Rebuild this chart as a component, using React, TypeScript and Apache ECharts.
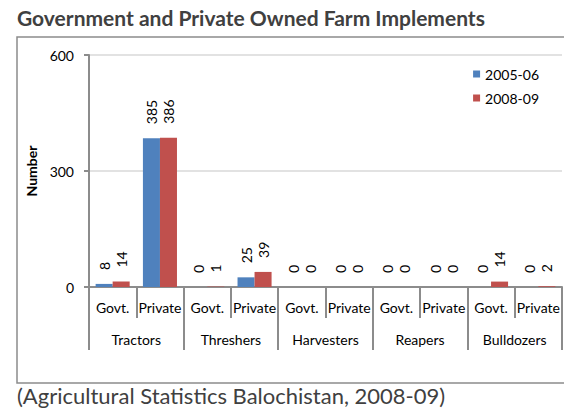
import React, { useEffect, useRef } from "react";
import * as echarts from "echarts";

const subCategories = ["Govt.", "Private", "Govt.", "Private", "Govt.", "Private", "Govt.", "Private", "Govt.", "Private"];
const groups = ["Tractors", "Threshers", "Harvesters", "Reapers", "Bulldozers"];
const series2005 = [8, 385, 0, 25, 0, 0, 0, 0, 0, 0];
const series2008 = [14, 386, 1, 39, 0, 0, 0, 0, 14, 2];
const yTicks = { min: 0, max: 600, interval: 300 };

const FONT = "Lato, 'Open Sans', sans-serif";

export default function App() {
  const ref = useRef<HTMLDivElement>(null);
  useEffect(() => {
    const chart = echarts.init(ref.current!, null, { renderer: "svg" });
    const label = {
      show: true,
      position: "top" as const,
      rotate: 90,
      align: "left" as const,
      verticalAlign: "middle" as const,
      distance: 14,
      fontSize: 14,
      color: "#000",
      fontFamily: FONT,
    };
    chart.setOption({
      animation: false,
      textStyle: { fontFamily: FONT },
      graphic: [
        { type: "rect", shape: { x: 17, y: 37, width: 580, height: 346 }, style: { fill: "none", stroke: "#8c8c8c", lineWidth: 1.5 } },
        { type: "text", x: 17, y: 7, style: { text: "Government and Private Owned Farm Implements", font: `bold 21px ${FONT}`, fill: "#404040" } },
        { type: "text", x: 17, y: 384, style: { text: "(Agricultural Statistics Balochistan, 2008-09)", font: `22px ${FONT}`, fill: "#404040" } },
      ],
      legend: {
        orient: "vertical",
        right: 20,
        top: 62,
        itemWidth: 7,
        itemHeight: 7,
        itemGap: 10,
        icon: "rect",
        textStyle: { fontSize: 14, color: "#000", fontFamily: FONT },
        data: ["2005-06", "2008-09"],
      },
      grid: { left: 89, right: 2, top: 55, bottom: 130 },
      xAxis: [
        {
          type: "category",
          data: subCategories,
          position: "bottom",
          axisLine: { show: true, lineStyle: { color: "#8c8c8c", width: 2 } },
          axisTick: { show: true, interval: 0, length: 31, lineStyle: { color: "#8c8c8c", width: 2 } },
          axisLabel: { interval: 0, margin: 13, fontSize: 14, color: "#000", fontFamily: FONT },
        },
        {
          type: "category",
          data: groups,
          position: "bottom",
          axisLine: { show: false },
          axisTick: { show: true, interval: 0, length: 63, lineStyle: { color: "#8c8c8c", width: 2 } },
          axisLabel: { interval: 0, margin: 45, fontSize: 14, color: "#000", fontFamily: FONT },
        },
      ],
      yAxis: {
        type: "value",
        min: yTicks.min,
        max: yTicks.max,
        interval: yTicks.interval,
        name: "Number",
        nameLocation: "middle",
        nameRotate: 90,
        nameGap: 46,
        nameTextStyle: { fontWeight: "bold", fontSize: 14, color: "#000", fontFamily: FONT },
        axisLine: { show: true, lineStyle: { color: "#8c8c8c", width: 2 } },
        axisTick: { show: true, length: 5, lineStyle: { color: "#8c8c8c", width: 2 } },
        axisLabel: { fontSize: 14, color: "#000", margin: 15, fontFamily: FONT },
        splitLine: { lineStyle: { color: "#d9d9d9", width: 1.5 } },
      },
      series: [
        { name: "2005-06", type: "bar", xAxisIndex: 0, data: series2005, itemStyle: { color: "#4F81BD" }, barGap: "0%", barCategoryGap: "28%", label },
        { name: "2008-09", type: "bar", xAxisIndex: 0, data: series2008, itemStyle: { color: "#C0504D" }, barGap: "0%", barCategoryGap: "28%", label },
      ],
    });
    return () => chart.dispose();
  }, []);
  return <div ref={ref} style={{ width: 564, height: 417, position: "absolute", left: 0, top: 0 }} />;
}
